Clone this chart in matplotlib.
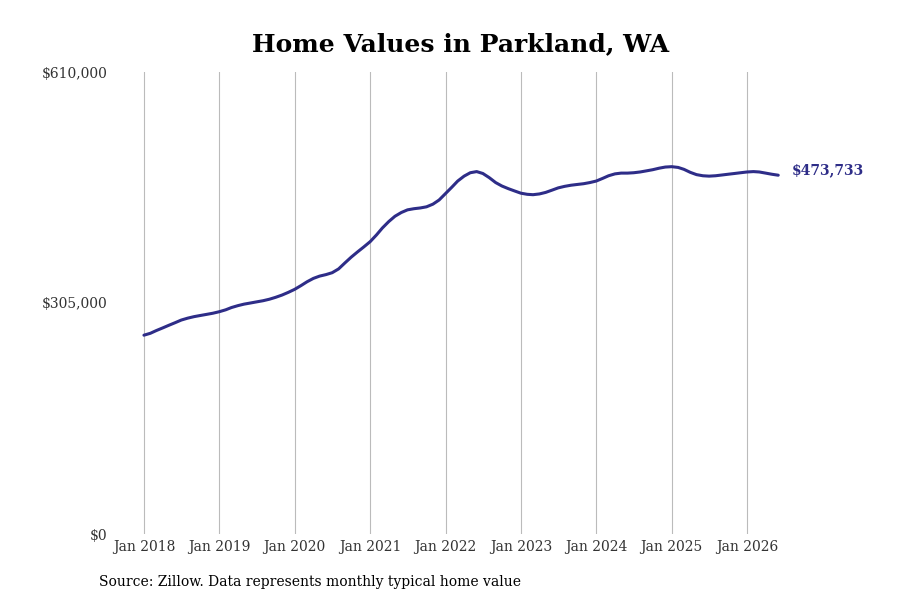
import matplotlib
matplotlib.use("Agg")
import matplotlib.pyplot as plt
import matplotlib.dates as mdates
import pandas as pd
import numpy as np

title = "Home Values in Parkland, WA"
source = "Source: Zillow. Data represents monthly typical home value"
start_month = "2018-01-01"
values_k = [
    262.5, 265, 268.5, 272, 275.5, 279, 282.5, 285, 287, 288.5, 290, 291.5,
    293.5, 296, 299, 301.5, 303.5, 305, 306.5, 308, 310, 312.5, 315.5, 319,
    323, 328, 333, 337.5, 340.5, 342.5, 345, 350, 358, 365.5, 372.5, 379,
    386, 395, 404, 412.5, 419.5, 424.5, 428, 429.5, 430.5, 432, 435.5, 441,
    449.5, 458, 466, 472.5, 477, 478.5, 476, 470.5, 464, 459.5, 456, 453,
    450, 448.5, 448, 449, 451, 454, 457, 459, 460.5, 461.5, 462.5, 464,
    466, 469.5, 473, 475.5, 476.5, 476.5, 477, 478, 479.5, 481, 483, 484.5,
    485, 484, 481.5, 477.5, 474.5, 473, 472.5, 473, 474, 475, 476, 477,
    478, 478.5, 478, 476.5, 475, 473.733,
]
yticks = [0, 305000, 610000]
ytick_labels = ["$0", "$305,000", "$610,000"]
end_label = "$473,733"
line_color = "#2e2d88"

dates = pd.date_range(start_month, periods=len(values_k), freq="MS")
values = np.array(values_k) * 1000

fig = plt.figure(figsize=(9, 6), dpi=100)
ax = fig.add_axes([120 / 900, 1 - 534 / 600, 670 / 900, 462 / 600])

ax.plot(dates, values, color=line_color, lw=2.2, solid_capstyle="round")

ax.set_ylim(0, 610000)
ax.set_yticks(yticks)
ax.set_yticklabels(ytick_labels, family="DejaVu Serif", fontsize=10, color="#333333")
ax.set_xlim(pd.Timestamp("2017-09-07"), pd.Timestamp("2026-07-28"))
ax.xaxis.set_major_locator(mdates.YearLocator())
ax.xaxis.set_major_formatter(mdates.DateFormatter("Jan %Y"))
for lbl in ax.get_xticklabels():
    lbl.set_family("DejaVu Serif")
    lbl.set_fontsize(10)
    lbl.set_color("#333333")
ax.tick_params(axis="both", length=0)
ax.tick_params(axis="x", pad=4)
ax.tick_params(axis="y", pad=9)
ax.grid(axis="x", color="#bbbbbb", lw=0.8)
ax.grid(axis="y", visible=False)
for s in ax.spines.values():
    s.set_visible(False)

ax.annotate(end_label, xy=(dates[-1], values[-1]), xytext=(10, 3.5),
            textcoords="offset points", ha="left", va="center",
            fontsize=10, fontweight="bold", family="DejaVu Serif", color=line_color)

fig.text(0.512, 1 - 44 / 600, title, ha="center", va="center",
         fontsize=18, fontweight="bold", family="DejaVu Serif")
fig.text(99 / 900, 1 - 582 / 600, source, ha="left", va="center",
         fontsize=10, family="DejaVu Serif")

fig.savefig("out.png", dpi=100)
